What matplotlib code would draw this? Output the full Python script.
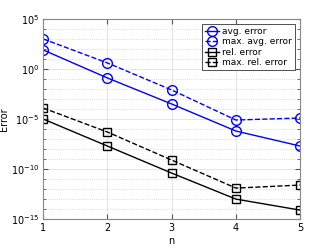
import numpy as np
import matplotlib.pyplot as plt
from matplotlib.ticker import FixedLocator, NullFormatter

n = [1, 2, 3, 4, 5]
avg_error = [10**1.9, 10**-0.9, 10**-3.5, 10**-6.2, 10**-7.7]
max_avg_error = [10**3.0, 10**0.6, 10**-2.1, 10**-5.1, 10**-4.9]
rel_error = [10**-5.0, 10**-7.7, 10**-10.4, 10**-13.0, 10**-14.1]
max_rel_error = [10**-3.9, 10**-6.3, 10**-9.1, 10**-11.9, 10**-11.6]

plt.rcParams['font.family'] = 'DejaVu Sans'
plt.rcParams['font.size'] = 7

fig = plt.figure(figsize=(3.32, 2.49), dpi=100)
ax = fig.add_axes([0.13, 0.12, 0.774, 0.804])

mk = dict(markerfacecolor='none', markeredgewidth=1.0, linewidth=1.0)
ax.semilogy(n, avg_error, '-o', color='#0000ff', markersize=7, label='avg. error', **mk)
ax.semilogy(n, max_avg_error, '--o', color='#0000ff', markersize=7, label='max. avg. error', **mk)
ax.semilogy(n, rel_error, '-s', color='black', markersize=5.5, label='rel. error', **mk)
ax.semilogy(n, max_rel_error, '--s', color='black', markersize=5.5, label='max. rel. error', **mk)

ax.set_xlim(1, 5)
ax.set_ylim(1e-15, 1e5)
ax.set_xticks(n)
ax.yaxis.set_major_locator(FixedLocator([1e-15, 1e-10, 1e-5, 1e0, 1e5]))
ax.yaxis.set_minor_locator(FixedLocator([10.0**k for k in range(-15, 6)]))
ax.yaxis.set_minor_formatter(NullFormatter())
ax.grid(True, which='major', color='#e0e0e0', linestyle='-', linewidth=0.6)
ax.grid(True, which='minor', axis='y', color='#d0d0d0', linestyle=':', linewidth=0.6)
ax.set_axisbelow(True)
ax.tick_params(direction='in', which='both', top=True, right=True, color='#555555', labelsize=7, pad=3)
ax.tick_params(which='minor', length=2)
for s in ax.spines.values():
    s.set_color('#888888')
ax.set_xlabel('n', labelpad=2)
ax.set_ylabel('Error', labelpad=1)

leg = ax.legend(loc='upper right', fontsize=6.5, handlelength=1.5, handletextpad=0.4,
                borderpad=0.3, labelspacing=0.15, fancybox=False, framealpha=1,
                borderaxespad=0.6)
leg.get_frame().set_edgecolor('#333333')
leg.get_frame().set_linewidth(0.6)

fig.savefig('out.png', dpi=100)
